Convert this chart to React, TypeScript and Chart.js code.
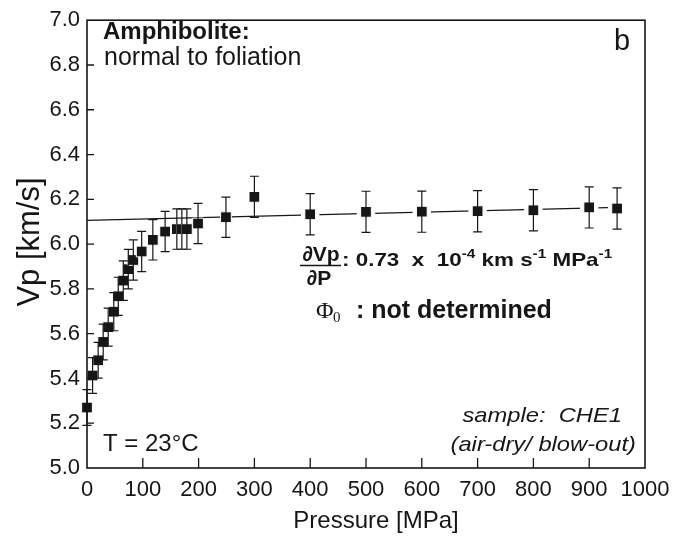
import React, { useEffect, useRef } from "react";
import { Chart, registerables } from "chart.js";

Chart.register(...registerables);

// ---- data ----
const pressure = [0, 10, 20, 29, 38, 48, 56, 65, 74, 83, 98, 118, 140, 161, 170, 179, 199, 249, 300, 400, 500, 600, 700, 800, 900, 950];
const vp = [5.27, 5.413, 5.481, 5.563, 5.629, 5.698, 5.767, 5.837, 5.888, 5.929, 5.967, 6.019, 6.056, 6.067, 6.067, 6.067, 6.092, 6.12, 6.211, 6.133, 6.144, 6.145, 6.147, 6.151, 6.164, 6.159];
const vpError = [0.08, 0.08, 0.08, 0.08, 0.085, 0.085, 0.085, 0.088, 0.088, 0.09, 0.09, 0.09, 0.09, 0.09, 0.09, 0.09, 0.09, 0.09, 0.092, 0.092, 0.092, 0.092, 0.092, 0.092, 0.092, 0.092];
const fitPressure = [0, 950];
const fitVp = [6.106, 6.164];
const xTickValues = [0, 100, 200, 300, 400, 500, 600, 700, 800, 900, 1000];
const yTickValues = [5.0, 5.2, 5.4, 5.6, 5.8, 6.0, 6.2, 6.4, 6.6, 6.8, 7.0];

const SANS = '"Liberation Sans", Arial, sans-serif';
const SERIF = '"Liberation Serif", "Times New Roman", serif';
const INK = "#161616";

type Seg = { t: string; font: string; dy?: number };

function drawRun(ctx: CanvasRenderingContext2D, segs: Seg[], x: number, y: number, sx = 1, align: "left" | "right" = "left") {
  ctx.save();
  ctx.fillStyle = INK;
  ctx.textBaseline = "alphabetic";
  ctx.textAlign = "left";
  let total = 0;
  for (const s of segs) {
    ctx.font = s.font;
    total += ctx.measureText(s.t).width;
  }
  ctx.translate(align === "right" ? x - total * sx : x, y);
  ctx.scale(sx, 1);
  let cx = 0;
  for (const s of segs) {
    ctx.font = s.font;
    ctx.fillText(s.t, cx, s.dy || 0);
    cx += ctx.measureText(s.t).width;
  }
  ctx.restore();
}

const decor = {
  id: "decor",
  afterDatasetsDraw(chart: any) {
    const { ctx, scales } = chart;
    const xs = scales.x;
    const ys = scales.y;
    ctx.save();
    ctx.strokeStyle = INK;
    ctx.lineWidth = 1.2;
    for (let i = 0; i < pressure.length; i++) {
      const px = xs.getPixelForValue(pressure[i]);
      const top = ys.getPixelForValue(vp[i] + vpError[i]);
      const bot = ys.getPixelForValue(vp[i] - vpError[i]);
      ctx.beginPath();
      ctx.moveTo(px, top);
      ctx.lineTo(px, bot);
      ctx.moveTo(px - 4.5, top);
      ctx.lineTo(px + 4.5, top);
      ctx.moveTo(px - 4.5, bot);
      ctx.lineTo(px + 4.5, bot);
      ctx.stroke();
    }
    ctx.restore();
  },
  afterDraw(chart: any) {
    const { ctx, chartArea: a, scales } = chart;
    const xs = scales.x;
    const ys = scales.y;
    ctx.save();
    ctx.strokeStyle = INK;
    ctx.lineWidth = 1.6;
    ctx.strokeRect(a.left, a.top, a.right - a.left, a.bottom - a.top);
    ctx.lineWidth = 1.3;
    ctx.beginPath();
    for (const v of yTickValues) {
      if (v <= 5.0 || v >= 7.0) continue;
      const py = ys.getPixelForValue(v);
      ctx.moveTo(a.left, py);
      ctx.lineTo(a.left + 7, py);
    }
    for (const v of xTickValues) {
      if (v <= 0 || v >= 1000) continue;
      const px = xs.getPixelForValue(v);
      ctx.moveTo(px, a.bottom);
      ctx.lineTo(px, a.bottom - 10);
    }
    ctx.stroke();

    // axis titles
    ctx.fillStyle = INK;
    ctx.font = `24px ${SANS}`;
    ctx.textAlign = "center";
    ctx.textBaseline = "alphabetic";
    ctx.fillText("Pressure [MPa]", 376, 528);
    ctx.save();
    ctx.translate(39, 242);
    ctx.rotate(-Math.PI / 2);
    ctx.font = `31px ${SANS}`;
    ctx.fillText("Vp [km/s]", 0, 0);
    ctx.restore();

    // annotations
    drawRun(ctx, [{ t: "Amphibolite:", font: `bold 24px ${SANS}` }], 103, 39);
    drawRun(ctx, [{ t: "normal to foliation", font: `25px ${SANS}` }], 104, 65);
    drawRun(ctx, [{ t: "b", font: `29px ${SANS}` }], 614, 50);

    // derivative fraction
    ctx.font = `bold 21px ${SANS}`;
    ctx.textAlign = "center";
    ctx.fillText("\u2202Vp", 321, 261);
    ctx.fillText("\u2202P", 319, 285);
    ctx.lineWidth = 1.6;
    ctx.beginPath();
    ctx.moveTo(300, 265.5);
    ctx.lineTo(341, 265.5);
    ctx.stroke();
    ctx.textAlign = "left";
    const big = `bold 19px ${SANS}`;
    const sup = `bold 13px ${SANS}`;
    drawRun(
      ctx,
      [
        { t: ": 0.73  x  10", font: big },
        { t: "-4", font: sup, dy: -8 },
        { t: " km s", font: big },
        { t: "-1", font: sup, dy: -8 },
        { t: " MPa", font: big },
        { t: "-1", font: sup, dy: -8 },
      ],
      342,
      266,
      1.18
    );
    drawRun(ctx, [{ t: "\u03A6", font: `24px ${SERIF}` }], 316, 318);
    drawRun(ctx, [{ t: "0", font: `15px ${SERIF}` }], 333, 322);
    drawRun(ctx, [{ t: ": not determined", font: `bold 25px ${SANS}` }], 356, 318);

    drawRun(ctx, [{ t: "sample:  CHE1", font: `italic 21px ${SANS}` }], 622, 422, 1.13, "right");
    drawRun(ctx, [{ t: "(air-dry/ blow-out)", font: `italic 21px ${SANS}` }], 636, 451, 1.13, "right");
    drawRun(ctx, [{ t: "T = 23\u00B0C", font: `24px ${SANS}` }], 103, 451);
    ctx.restore();
  },
};

export default function App() {
  const ref = useRef<HTMLCanvasElement | null>(null);
  useEffect(() => {
    document.body.style.margin = "0";
    const canvas = ref.current;
    if (!canvas) return;
    const points = pressure.map((p, i) => ({ x: p, y: vp[i] }));
    const fit = fitPressure.map((p, i) => ({ x: p, y: fitVp[i] }));
    const chart = new Chart(canvas, {
      type: "scatter",
      data: {
        datasets: [
          {
            type: "line",
            data: fit,
            borderColor: INK,
            borderWidth: 1.3,
            pointRadius: 0,
            fill: false,
            order: 3,
            clip: false,
          } as any,
          {
            data: points,
            pointStyle: "rect",
            pointRadius: (c: any) => (pressure[c.dataIndex] >= 300 ? 13 : 0),
            backgroundColor: "#ffffff",
            borderWidth: 0,
            order: 2,
            clip: false,
          } as any,
          {
            data: points,
            pointStyle: "rect",
            pointRadius: 7.6,
            backgroundColor: INK,
            borderColor: "#ffffff",
            borderWidth: 1,
            order: 1,
            clip: false,
          } as any,
        ],
      },
      options: {
        responsive: false,
        animation: false,
        devicePixelRatio: 1,
        layout: { padding: { left: 0, right: 43, top: 14, bottom: 0 } },
        plugins: { legend: { display: false }, tooltip: { enabled: false } },
        scales: {
          x: {
            type: "linear",
            min: 0,
            max: 1000,
            afterFit: (s: any) => {
              s.height = 70;
            },
            afterBuildTicks: (s: any) => {
              s.ticks = xTickValues.map((v) => ({ value: v }));
            },
            grid: { display: false, drawTicks: false },
            border: { display: false },
            ticks: {
              autoSkip: false,
              maxRotation: 0,
              padding: 9,
              color: INK,
              font: { family: SANS, size: 22 },
              callback: (v: any) => String(v),
            },
          },
          y: {
            type: "linear",
            min: 5,
            max: 7,
            afterFit: (s: any) => {
              s.width = 87;
            },
            afterBuildTicks: (s: any) => {
              s.ticks = yTickValues.map((v) => ({ value: v }));
            },
            grid: { display: false, drawTicks: false },
            border: { display: false },
            ticks: {
              autoSkip: false,
              padding: 7,
              color: INK,
              font: { family: SANS, size: 22 },
              callback: (v: any) => Number(v).toFixed(1),
            },
          },
        },
      },
      plugins: [decor],
    });
    return () => chart.destroy();
  }, []);
  return (
    <div style={{ width: 688, height: 538 }}>
      <canvas ref={ref} width={688} height={538} style={{ display: "block" }} />
    </div>
  );
}
